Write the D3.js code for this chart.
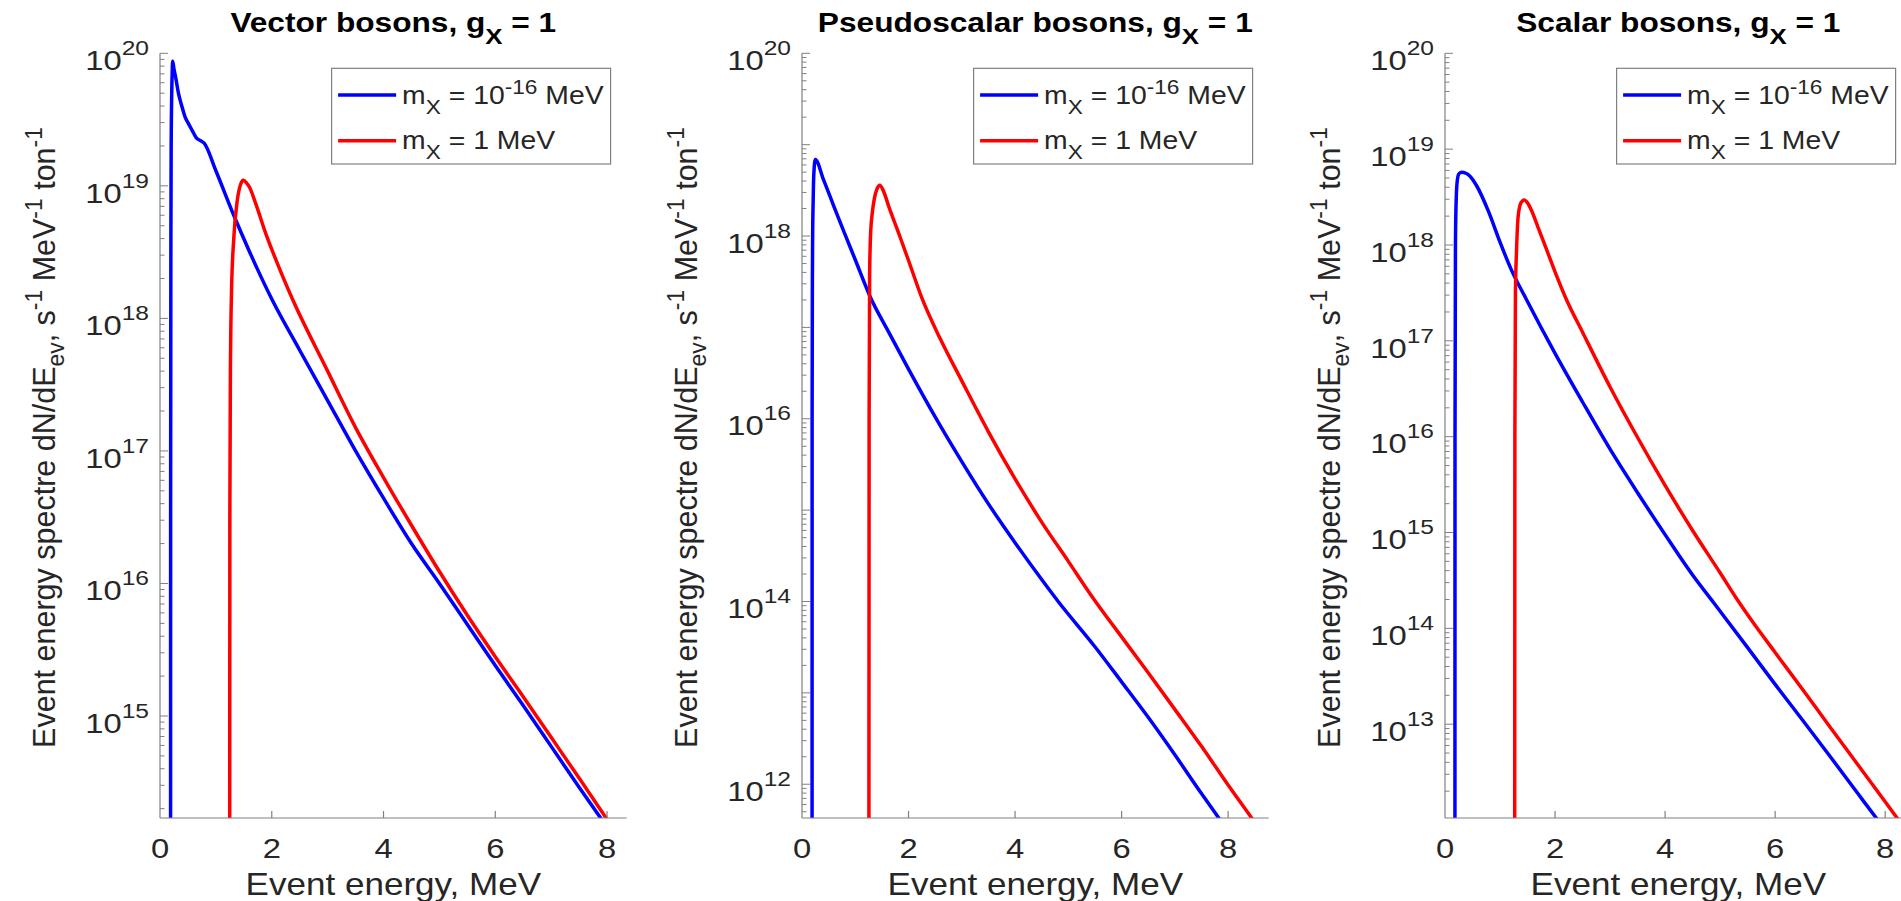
<!DOCTYPE html>
<html lang="en">
<head>
<meta charset="UTF-8">
<title>Event energy spectre</title>
<script src="https://d3js.org/d3.v7.min.js"></script>
<style>
  body { margin: 0; background: #fff; }
  svg { display: block; font-family: "Liberation Sans", Arial, sans-serif; }
</style>
</head>
<body>
<div id="chart"></div>
<script>
// ---- data (E in MeV, rate in s^-1 MeV^-1 ton^-1) ----
const panelTitles = ["Vector bosons, g", "Pseudoscalar bosons, g", "Scalar bosons, g"];
const legendLabels = [["m", "X", " = 10", "-16", " MeV"], ["m", "X", " = 1 MeV"]];
const xTicks = [0, 2, 4, 6, 8];
const xLimits = [8.35, 8.76, 8.48];
const yLimits = [1.7e14, 4.27e11, 1.05e12];
const yTickExps = [[15, 16, 17, 18, 19, 20], [12, 14, 16, 18, 20], [13, 14, 15, 16, 17, 18, 19, 20]];

// vector bosons
const vecLightE = [0.189, 0.19, 0.195, 0.2, 0.21, 0.22, 0.227, 0.25, 0.28, 0.33, 0.39, 0.45, 0.5, 0.58, 0.65, 0.72, 0.79, 1.0, 1.32, 1.6, 2.0, 2.5, 3.0, 3.5, 4.0, 4.5, 5.0, 5.5, 6.0, 6.5, 7.0, 7.5, 8.0];
const vecLightN = [1e12, 3.2e16, 4.0e18, 2.0e19, 5.0e19, 7.6e19, 8.7e19, 7.6e19, 6.6e19, 5.0e19, 4.0e19, 3.3e19, 3.0e19, 2.6e19, 2.3e19, 2.2e19, 2.1e19, 1.3e19, 6.0e18, 3.2e18, 1.4e18, 5.75e17, 2.4e17, 1.0e17, 4.4e16, 2.0e16, 1.0e16, 4.9e15, 2.4e15, 1.2e15, 5.9e14, 2.9e14, 1.45e14];
const vecHeavyE = [1.245, 1.25, 1.26, 1.28, 1.32, 1.38, 1.44, 1.49, 1.55, 1.6, 1.71, 1.89, 2.1, 2.37, 3.0, 3.5, 4.0, 4.5, 5.0, 5.5, 6.0, 6.5, 7.0, 7.5, 8.0];
const vecHeavyN = [1e12, 3.2e16, 4.0e17, 1.6e18, 4.0e18, 7.6e18, 1.02e19, 1.1e19, 1.05e19, 9.8e18, 7.4e18, 4.4e18, 2.6e18, 1.4e18, 4.0e17, 1.5e17, 6.3e16, 2.75e16, 1.23e16, 5.75e15, 2.8e15, 1.4e15, 6.9e14, 3.4e14, 1.66e14];

// pseudoscalar bosons
const psLightE = [0.189, 0.19, 0.195, 0.2, 0.21, 0.22, 0.25, 0.4, 0.6, 0.8, 1.0, 1.29, 1.6, 2.0, 2.5, 3.0, 3.5, 4.0, 4.5, 4.81, 5.5, 6.0, 6.5, 7.0, 7.5, 7.82, 8.1];
const psLightN = [1e10, 1e16, 3.2e17, 1.0e18, 2.5e18, 4.5e18, 6.9e18, 4.2e18, 2.1e18, 1.07e18, 5.5e17, 2.1e17, 9.5e16, 3.5e16, 1.05e16, 3.4e15, 1.17e15, 4.4e14, 1.74e14, 1.0e14, 3.2e13, 1.32e13, 5.4e12, 2.1e12, 7.9e11, 4.3e11, 2.45e11];
const psHeavyE = [1.255, 1.26, 1.27, 1.29, 1.32, 1.36, 1.41, 1.46, 1.52, 1.63, 1.86, 2.0, 2.25, 2.6, 3.0, 3.5, 4.0, 4.5, 5.0, 5.46, 6.0, 6.5, 7.0, 7.5, 8.0, 8.45, 8.7];
const psHeavyN = [1e10, 1e16, 4.0e17, 1.12e18, 1.8e18, 2.6e18, 3.3e18, 3.6e18, 3.2e18, 2.1e18, 9.1e17, 5.4e17, 2.1e17, 7.4e16, 2.6e16, 7.2e15, 2.2e15, 7.4e14, 2.75e14, 1.1e14, 4.1e13, 1.66e13, 6.6e12, 2.6e12, 9.8e11, 4.2e11, 2.6e11];

// scalar bosons
const scLightE = [0.18, 0.182, 0.19, 0.2, 0.22, 0.25, 0.3, 0.38, 0.45, 0.58, 0.79, 1.0, 1.2, 1.48, 2.0, 2.5, 3.0, 3.5, 4.0, 4.5, 4.88, 5.5, 6.0, 6.5, 7.0, 7.5, 8.0, 8.2];
const scLightN = [1e10, 1e16, 1.0e18, 2.5e18, 4.5e18, 5.5e18, 5.75e18, 5.6e18, 5.25e18, 4.1e18, 2.24e18, 1.07e18, 5.6e17, 2.7e17, 7.4e16, 2.3e16, 7.4e15, 2.6e15, 9.5e14, 3.6e14, 1.86e14, 6.3e13, 2.6e13, 1.1e13, 4.6e12, 1.9e12, 7.9e11, 5.6e11];
const scHeavyE = [1.265, 1.27, 1.28, 1.30, 1.33, 1.38, 1.44, 1.5, 1.58, 1.7, 1.8, 2.0, 2.2, 2.5, 3.0, 3.5, 4.0, 4.5, 5.0, 5.31, 5.6, 6.0, 6.5, 7.0, 7.5, 8.0, 8.5];
const scHeavyN = [1e10, 1e16, 3.2e17, 8.7e17, 2.0e18, 2.75e18, 2.95e18, 2.75e18, 2.24e18, 1.48e18, 1.05e18, 5.25e17, 2.75e17, 1.23e17, 3.3e16, 9.8e15, 3.1e15, 1.05e15, 3.8e14, 2.0e14, 1.15e14, 5.6e13, 2.3e13, 9.3e12, 3.8e12, 1.55e12, 6.3e11];

const series = [
  [[vecLightE, vecLightN], [vecHeavyE, vecHeavyN]],
  [[psLightE, psLightN], [psHeavyE, psHeavyN]],
  [[scLightE, scLightN], [scHeavyE, scHeavyN]]
];
const lineColors = ["#0000ff", "#ff0000"];

// ---- layout ----
const W = 1901, H = 901;
const panelLeft = [160, 802, 1445];
const panelW = 466.6, plotTop = 53.3, plotBottom = 818;
const TICK_SX = 1.17;       // tick digits in the reference are a bit wide
const TXT = "#262626", AXC = "#808080";

const svg = d3.select("#chart").append("svg")
  .attr("width", W).attr("height", H);

function label(g, x, y, size, sx, rot) {
  return g.append("text")
    .attr("data-x", x).attr("data-y", y)
    .attr("transform", `translate(${x},${y})` + (rot ? " rotate(-90)" : "") + ` scale(${sx},1)`)
    .attr("font-size", size)
    .attr("fill", TXT);
}

// stretch a text along its baseline so it spans the width seen in the reference
function fitTo(t, width, rot) {
  const w = t.node().getBBox().width;
  const s = width / w;
  t.attr("transform", `translate(${t.attr("data-x")},${t.attr("data-y")})` + (rot ? " rotate(-90)" : "") + ` scale(${s},1)`);
  return s;
}

let titleScale = 1, legendScale = 1;

panelTitles.forEach((title, i) => {
  const left = panelLeft[i], right = left + panelW;
  const g = svg.append("g");

  const x = d3.scaleLinear().domain([0, xLimits[i]]).range([left, right]);
  const y = d3.scaleLog().domain([yLimits[i], 1e20]).range([plotBottom, plotTop]);

  const clipId = "clip" + i;
  svg.append("clipPath").attr("id", clipId).append("rect")
    .attr("x", left).attr("y", plotTop).attr("width", panelW).attr("height", plotBottom - plotTop);

  // curves
  const line = d3.line().x(d => x(d[0])).y(d => y(d[1])).curve(d3.curveMonotoneX);
  series[i].forEach((s, k) => {
    const pts = s[0].map((e, j) => [e, s[1][j]]);
    g.append("path")
      .attr("clip-path", `url(#${clipId})`)
      .attr("d", line(pts))
      .attr("fill", "none")
      .attr("stroke", lineColors[k])
      .attr("stroke-width", 3.5)
      .attr("stroke-linejoin", "round");
  });

  // axis lines
  g.append("line").attr("x1", left).attr("x2", left).attr("y1", plotTop).attr("y2", plotBottom)
    .attr("stroke", AXC).attr("stroke-width", 1.2);
  g.append("line").attr("x1", left).attr("x2", right).attr("y1", plotBottom).attr("y2", plotBottom)
    .attr("stroke", AXC).attr("stroke-width", 1.2);

  // x ticks
  xTicks.forEach(t => {
    const px = x(t);
    if (t > 0) g.append("line").attr("x1", px).attr("x2", px).attr("y1", plotBottom).attr("y2", plotBottom - 7)
      .attr("stroke", AXC).attr("stroke-width", 1.2);
    label(g, px, 858, 28, TICK_SX).attr("text-anchor", "middle").text(t);
  });

  // y ticks: majors at decades, minors 2..9
  const [lo, hi] = y.domain();
  for (let e = Math.floor(Math.log10(lo)); e <= 20; e++) {
    for (let m = 1; m <= 9; m++) {
      const v = m * Math.pow(10, e);
      if (v < lo * 0.999 || v > hi * 1.001) continue;
      const len = m === 1 ? 8 : 4.5;
      g.append("line").attr("x1", left).attr("x2", left + len)
        .attr("y1", y(v)).attr("y2", y(v))
        .attr("stroke", AXC).attr("stroke-width", 1);
    }
  }
  yTickExps[i].forEach(e => {
    const t = label(g, left - 11, y(Math.pow(10, e)) + 16.7, 28, TICK_SX).attr("text-anchor", "end");
    t.append("tspan").text("10");
    t.append("tspan").attr("dy", -15).attr("font-size", 21).text(e);
  });

  // title (same horizontal stretch for all three)
  const cx = (left + right) / 2;
  const tt = label(g, cx, 31.7, 27, titleScale).attr("text-anchor", "middle").attr("font-weight", "bold").attr("fill", "#000");
  tt.append("tspan").text(title);
  tt.append("tspan").attr("dy", 12).attr("font-size", 22).text("X");
  tt.append("tspan").attr("dy", -12).text(" = 1");
  if (i === 0) titleScale = fitTo(tt, 326);

  // axis labels
  const xl = label(g, cx, 895, 31, 1).attr("text-anchor", "middle").text("Event energy, MeV");
  fitTo(xl, 296);
  const yl = label(g, left - 105, 437.5, 32, 1, true).attr("text-anchor", "middle");
  yl.append("tspan").text("Event energy spectre dN/dE");
  yl.append("tspan").attr("dy", 9).attr("font-size", 24).text("ev");
  yl.append("tspan").attr("dy", -9).text(", s");
  yl.append("tspan").attr("dy", -13).attr("font-size", 24).text("-1");
  yl.append("tspan").attr("dy", 13).text(" MeV");
  yl.append("tspan").attr("dy", -13).attr("font-size", 24).text("-1");
  yl.append("tspan").attr("dy", 13).text(" ton");
  yl.append("tspan").attr("dy", -13).attr("font-size", 24).text("-1");
  fitTo(yl, 621, true);

  // legend
  const bx = right - 295, by = 68.3;
  g.append("rect").attr("x", bx).attr("y", by).attr("width", 279).attr("height", 95.7)
    .attr("fill", "#fff").attr("stroke", AXC).attr("stroke-width", 1.2);
  legendLabels.forEach((parts, k) => {
    const ry = k === 0 ? 95 : 140.7;
    g.append("line").attr("x1", bx + 6.5).attr("x2", bx + 64.5).attr("y1", ry).attr("y2", ry)
      .attr("stroke", lineColors[k]).attr("stroke-width", 3.5);
    const lt = label(g, bx + 70.5, ry + 8.5, 25, legendScale);
    lt.append("tspan").text(parts[0]);
    lt.append("tspan").attr("dy", 10).attr("font-size", 20).text(parts[1]);
    lt.append("tspan").attr("dy", -10).text(parts[2]);
    if (parts.length > 3) {
      lt.append("tspan").attr("dy", -10).attr("font-size", 20).text(parts[3]);
      lt.append("tspan").attr("dy", 10).text(parts[4]);
    }
    if (i === 0 && k === 0) legendScale = fitTo(lt, 202);
  });
});
</script>
</body>
</html>
